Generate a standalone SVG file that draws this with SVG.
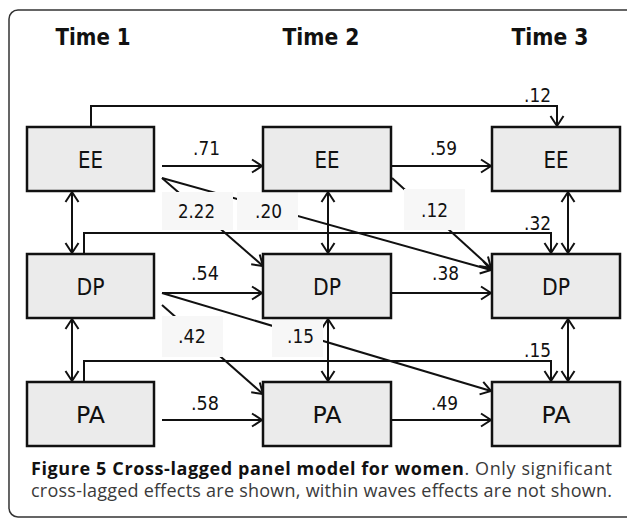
<svg xmlns="http://www.w3.org/2000/svg" width="627" height="519" viewBox="0 0 627 519">
<style>
.frame{fill:#fff;stroke:#333;stroke-width:1.5}
.box{fill:#ebebeb;stroke:#111;stroke-width:2.5}
.lbl{font-family:"DejaVu Sans",sans-serif;font-size:23px;fill:#111;text-anchor:middle}
.hd{font-family:"DejaVu Sans",sans-serif;font-size:23px;font-weight:bold;fill:#111;text-anchor:middle}
.num{font-family:"DejaVu Sans",sans-serif;font-size:19px;fill:#111}
.lb{fill:#f7f7f7;stroke:none}
.ln{fill:none;stroke:#111;stroke-width:2}
.arr{marker-end:url(#ah)}
.dbl{marker-end:url(#ah);marker-start:url(#ah)}
.cap{font-family:"Open Sans","Noto Sans",sans-serif;font-size:18px;fill:#3a3a3a}
.capb{font-weight:bold;fill:#111}
</style>
<defs>
<marker id="ah" markerUnits="userSpaceOnUse" viewBox="-12 -8 14 16" refX="0" refY="0" markerWidth="14" markerHeight="16" orient="auto-start-reverse">
<path d="M-10,-6.5 L0,0 L-10,6.5" fill="none" stroke="#111" stroke-width="2"/>
</marker>
</defs>
<rect class="frame" x="9" y="10" width="630" height="507" rx="9"/>
<text class="hd" x="93" y="45" textLength="75" lengthAdjust="spacingAndGlyphs">Time 1</text>
<text class="hd" x="321" y="45" textLength="77" lengthAdjust="spacingAndGlyphs">Time 2</text>
<text class="hd" x="550" y="45" textLength="77" lengthAdjust="spacingAndGlyphs">Time 3</text>
<g id="connectors">
<path class="ln arr" d="M91,127 V106 H557 V126"/>
<path class="ln arr" d="M84,254 V233 H551 V253"/>
<path class="ln arr" d="M84,382 V361 H551 V381"/>
<line class="ln arr" x1="162" y1="166" x2="262" y2="166"/>
<line class="ln arr" x1="391" y1="166" x2="491" y2="166"/>
<line class="ln arr" x1="162" y1="293" x2="262" y2="293"/>
<line class="ln arr" x1="391" y1="293" x2="491" y2="293"/>
<line class="ln arr" x1="162" y1="420" x2="262" y2="420"/>
<line class="ln arr" x1="391" y1="420" x2="491" y2="420"/>
<line class="ln dbl" x1="72" y1="192" x2="72" y2="253"/>
<line class="ln dbl" x1="328" y1="192" x2="328" y2="253"/>
<line class="ln dbl" x1="568" y1="192" x2="568" y2="253"/>
<line class="ln dbl" x1="72" y1="319" x2="72" y2="381"/>
<line class="ln dbl" x1="328" y1="319" x2="328" y2="381"/>
<line class="ln dbl" x1="568" y1="319" x2="568" y2="381"/>
<line class="ln arr" x1="162" y1="178" x2="263" y2="266"/>
<line class="ln arr" x1="162" y1="178" x2="491" y2="270"/>
<line class="ln arr" x1="392" y1="178" x2="491" y2="268"/>
<line class="ln arr" x1="162" y1="305" x2="263" y2="394"/>
<line class="ln arr" x1="162" y1="293" x2="491" y2="391"/>
<rect class="lb" x="162" y="192" width="71" height="38"/>
<rect class="lb" x="237" y="192" width="61" height="38"/>
<rect class="lb" x="404" y="189" width="61" height="41"/>
<rect class="lb" x="162" y="316" width="61" height="41"/>
<rect class="lb" x="272" y="316" width="51" height="41"/>
<text class="num" x="524" y="102" textLength="27" lengthAdjust="spacingAndGlyphs">.12</text>
<text class="num" x="193" y="155" textLength="27" lengthAdjust="spacingAndGlyphs">.71</text>
<text class="num" x="430" y="155" textLength="27" lengthAdjust="spacingAndGlyphs">.59</text>
<text class="num" x="178" y="218" textLength="37" lengthAdjust="spacingAndGlyphs">2.22</text>
<text class="num" x="255" y="218" textLength="27" lengthAdjust="spacingAndGlyphs">.20</text>
<text class="num" x="421" y="217" textLength="27" lengthAdjust="spacingAndGlyphs">.12</text>
<text class="num" x="524" y="230" textLength="27" lengthAdjust="spacingAndGlyphs">.32</text>
<text class="num" x="191" y="280" textLength="28" lengthAdjust="spacingAndGlyphs">.54</text>
<text class="num" x="432" y="280" textLength="27" lengthAdjust="spacingAndGlyphs">.38</text>
<text class="num" x="178" y="343" textLength="28" lengthAdjust="spacingAndGlyphs">.42</text>
<text class="num" x="287" y="343" textLength="27" lengthAdjust="spacingAndGlyphs">.15</text>
<text class="num" x="524" y="357" textLength="27" lengthAdjust="spacingAndGlyphs">.15</text>
<text class="num" x="191" y="410" textLength="28" lengthAdjust="spacingAndGlyphs">.58</text>
<text class="num" x="431" y="410" textLength="27" lengthAdjust="spacingAndGlyphs">.49</text>
</g>
<g id="EE1"><rect class="box" x="27" y="127" width="127" height="64"/><text class="lbl" x="90.5" y="168" textLength="25" lengthAdjust="spacingAndGlyphs">EE</text></g>
<g id="EE2"><rect class="box" x="263" y="127" width="128" height="64"/><text class="lbl" x="327" y="168" textLength="25" lengthAdjust="spacingAndGlyphs">EE</text></g>
<g id="EE3"><rect class="box" x="492" y="127" width="128" height="64"/><text class="lbl" x="556" y="168" textLength="25" lengthAdjust="spacingAndGlyphs">EE</text></g>
<g id="DP1"><rect class="box" x="27" y="254" width="127" height="64"/><text class="lbl" x="90.5" y="295" textLength="28" lengthAdjust="spacingAndGlyphs">DP</text></g>
<g id="DP2"><rect class="box" x="263" y="254" width="128" height="64"/><text class="lbl" x="327" y="295" textLength="28" lengthAdjust="spacingAndGlyphs">DP</text></g>
<g id="DP3"><rect class="box" x="492" y="254" width="128" height="64"/><text class="lbl" x="556" y="295" textLength="28" lengthAdjust="spacingAndGlyphs">DP</text></g>
<g id="PA1"><rect class="box" x="27" y="382" width="127" height="64"/><text class="lbl" x="90.5" y="423" textLength="29" lengthAdjust="spacingAndGlyphs">PA</text></g>
<g id="PA2"><rect class="box" x="263" y="382" width="128" height="64"/><text class="lbl" x="327" y="423" textLength="29" lengthAdjust="spacingAndGlyphs">PA</text></g>
<g id="PA3"><rect class="box" x="492" y="382" width="128" height="64"/><text class="lbl" x="556" y="423" textLength="29" lengthAdjust="spacingAndGlyphs">PA</text></g>
<text class="cap" x="31" y="475" textLength="581" lengthAdjust="spacing"><tspan class="capb">Figure 5 Cross-lagged panel model for women</tspan>. Only significant</text>
<text class="cap" x="31" y="497" textLength="581" lengthAdjust="spacing">cross-lagged effects are shown, within waves effects are not shown.</text>
</svg>
